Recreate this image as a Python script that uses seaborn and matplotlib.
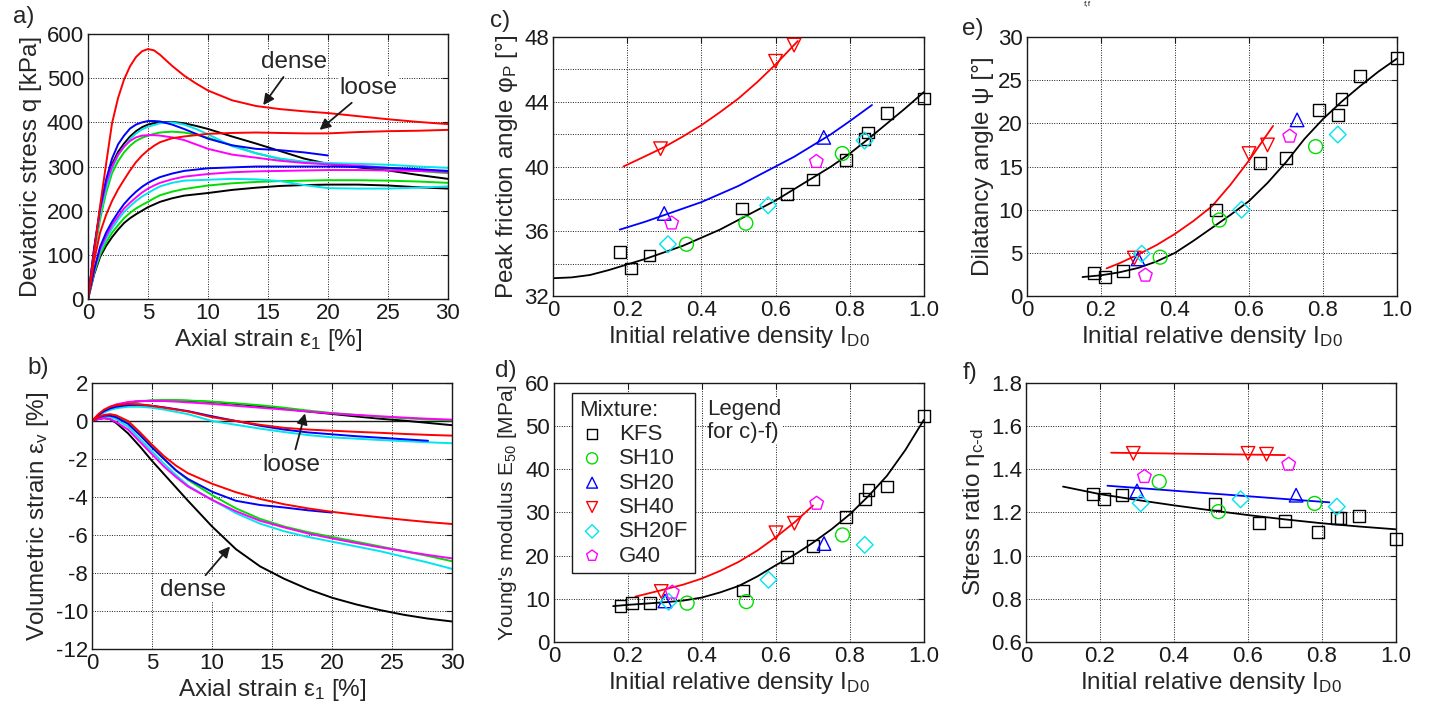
import numpy as np
import pandas as pd
import matplotlib
matplotlib.use("Agg")
from matplotlib import pyplot as plt
import seaborn as sns

# ------------------------------------------------------------------
# a) deviatoric stress q [kPa] over axial strain eps1 [%]
# ------------------------------------------------------------------
eps_a = [0, 0.5, 1, 1.5, 2, 2.5, 3, 3.5, 4, 4.5, 5, 5.5, 6, 7, 8, 9, 10, 12, 14, 16, 18, 20, 22.5, 25, 27.5, 30]

q_kfs_dense = [0, 110, 200, 260, 305, 333, 352, 368, 380, 389, 395, 398, 400, 401, 398, 392, 385, 368, 352, 335, 318, 306, 298, 291, 281, 272]
q_kfs_loose = [0, 55, 95, 120, 140, 157, 172, 183, 192, 200, 208, 214, 220, 228, 234, 237, 240, 247, 252, 256, 258, 259, 259, 257, 253, 250]
q_sh10_dense = [0, 100, 180, 240, 285, 312, 332, 347, 358, 365, 370, 374, 377, 379, 377, 372, 365, 348, 330, 317, 310, 306, 300, 295, 290, 285]
q_sh10_loose = [0, 58, 100, 128, 150, 167, 183, 195, 205, 213, 220, 228, 235, 243, 249, 253, 257, 262, 265, 267, 268, 269, 269, 268, 266, 263]
q_sh20_dense = [0, 115, 205, 270, 318, 350, 370, 386, 395, 400, 403, 403, 402, 395, 385, 374, 363, 348, 340, 337, 332, 325]
q_sh20_loose = [0, 66, 118, 150, 175, 196, 215, 230, 243, 254, 263, 270, 276, 284, 290, 293, 296, 298, 300, 300, 300, 300, 299, 297, 294, 290]
q_sh40_dense = [0, 105, 210, 305, 398, 455, 497, 527, 548, 561, 566, 563, 553, 528, 506, 488, 472, 450, 437, 430, 425, 421, 414, 407, 401, 396]
q_sh40_loose = [0, 85, 150, 190, 222, 248, 270, 291, 310, 325, 337, 347, 355, 364, 368, 371, 374, 376, 377, 376, 375, 375, 378, 380, 381, 383]
q_sh20f_dense = [0, 105, 190, 250, 295, 325, 345, 362, 375, 384, 390, 394, 398, 400, 395, 385, 373, 346, 330, 318, 311, 308, 306, 304, 300, 297]
q_sh20f_loose = [0, 62, 108, 136, 160, 180, 197, 210, 222, 232, 240, 248, 255, 263, 268, 269, 270, 272, 271, 267, 258, 251, 250, 250, 252, 255]
q_g40_dense = [0, 110, 200, 260, 300, 327, 345, 358, 366, 370, 371, 371, 370, 366, 360, 350, 340, 327, 320, 313, 308, 305, 302, 297, 292, 288]
q_g40_loose = [0, 64, 112, 142, 168, 187, 205, 218, 230, 241, 250, 257, 263, 271, 277, 280, 283, 287, 289, 290, 291, 292, 292, 291, 290, 288]

# ------------------------------------------------------------------
# b) volumetric strain eps_v [%] over axial strain eps1 [%]
# ------------------------------------------------------------------
eps_b = [0, 0.5, 1, 1.5, 2, 3, 4, 5, 6, 7, 8, 10, 12, 14, 16, 18, 20, 22, 24, 26, 28, 30]

ev_kfs_dense = [0, 0.1, 0.15, 0.1, -0.1, -0.65, -1.35, -2.1, -2.8, -3.5, -4.2, -5.55, -6.75, -7.65, -8.3, -8.85, -9.3, -9.65, -9.95, -10.2, -10.4, -10.55]
ev_kfs_loose = [0, 0.28, 0.52, 0.7, 0.83, 0.97, 1.04, 1.07, 1.08, 1.08, 1.06, 1.0, 0.9, 0.78, 0.64, 0.5, 0.37, 0.24, 0.12, 0.02, -0.1, -0.22]
ev_sh10_dense = [0, 0.2, 0.3, 0.32, 0.25, -0.1, -0.7, -1.35, -2.0, -2.6, -3.1, -3.9, -4.6, -5.15, -5.55, -5.85, -6.1, -6.35, -6.6, -6.85, -7.1, -7.38]
ev_sh10_loose = [0, 0.3, 0.55, 0.72, 0.85, 0.98, 1.05, 1.08, 1.1, 1.1, 1.08, 1.02, 0.93, 0.83, 0.7, 0.55, 0.42, 0.32, 0.22, 0.15, 0.08, 0.03]
ev_sh20_dense = [0, 0.18, 0.28, 0.28, 0.2, -0.15, -0.75, -1.4, -2.0, -2.6, -3.05, -3.72, -4.2, -4.42, -4.55, -4.7, -4.82]
ev_sh20_loose = [0, 0.3, 0.52, 0.66, 0.75, 0.84, 0.85, 0.8, 0.72, 0.62, 0.52, 0.25, 0.0, -0.25, -0.45, -0.6, -0.7, -0.8, -0.88, -0.96, -1.04]
ev_sh40_dense = [0, 0.2, 0.32, 0.36, 0.3, 0.0, -0.6, -1.25, -1.85, -2.35, -2.75, -3.3, -3.75, -4.1, -4.38, -4.6, -4.78, -4.93, -5.07, -5.2, -5.32, -5.42]
ev_sh40_loose = [0, 0.35, 0.6, 0.75, 0.83, 0.9, 0.88, 0.8, 0.7, 0.6, 0.5, 0.2, 0.0, -0.2, -0.36, -0.45, -0.51, -0.57, -0.62, -0.68, -0.73, -0.77]
ev_sh20f_dense = [0, 0.15, 0.25, 0.22, 0.1, -0.3, -0.95, -1.6, -2.25, -2.85, -3.4, -4.15, -4.85, -5.4, -5.8, -6.1, -6.35, -6.6, -6.85, -7.15, -7.45, -7.78]
ev_sh20f_loose = [0, 0.25, 0.45, 0.58, 0.67, 0.75, 0.75, 0.7, 0.6, 0.48, 0.36, 0.0, -0.2, -0.4, -0.58, -0.74, -0.86, -0.93, -1.0, -1.06, -1.12, -1.17]
ev_g40_dense = [0, 0.1, 0.15, 0.1, -0.05, -0.45, -1.1, -1.75, -2.4, -2.95, -3.45, -4.15, -4.75, -5.25, -5.6, -5.92, -6.18, -6.42, -6.65, -6.85, -7.05, -7.23]
ev_g40_loose = [0, 0.3, 0.55, 0.75, 0.87, 1.0, 1.05, 1.06, 1.05, 1.02, 0.98, 0.9, 0.8, 0.7, 0.6, 0.5, 0.4, 0.32, 0.25, 0.18, 0.12, 0.07]

# ------------------------------------------------------------------
# c)-f) values over initial relative density ID0
# ------------------------------------------------------------------
mix_names = ["KFS", "SH10", "SH20", "SH40", "SH20F", "G40"]
mix_colors = ["black", "#00dd00", "#0000ff", "#ff0000", "#00e5ee", "#ff00ff"]
mix_markers = ["s", "o", "^", "v", "D", "p"]
mix_sizes = [72, 100, 95, 95, 72, 105]

id0_kfs = [0.18, 0.21, 0.26, 0.51, 0.63, 0.70, 0.79, 0.84, 0.85, 0.90, 1.00]
id0_sh10 = [0.36, 0.52, 0.78]
id0_sh20 = [0.30, 0.73]
id0_sh40 = [0.29, 0.60, 0.65]
id0_sh20f = [0.31, 0.58, 0.84]
id0_g40 = [0.32, 0.71]

phi_kfs = [34.7, 33.7, 34.5, 37.4, 38.3, 39.2, 40.4, 41.7, 42.1, 43.3, 44.2]
phi_sh10 = [35.2, 36.5, 40.8]
phi_sh20 = [37.1, 41.8]
phi_sh40 = [41.1, 46.5, 47.5]
phi_sh20f = [35.2, 37.6, 41.6]
phi_g40 = [36.5, 40.3]

e50_kfs = [8.4, 9.0, 9.0, 11.9, 19.7, 22.3, 29.0, 33.1, 35.2, 36.0, 52.4]
e50_sh10 = [9.0, 9.35, 24.8]
e50_sh20 = [9.5, 22.8]
e50_sh40 = [11.7, 25.3, 27.5]
e50_sh20f = [9.3, 14.4, 22.5]
e50_g40 = [11.5, 32.1]

psi_kfs = [2.7, 2.2, 2.9, 10.0, 15.4, 16.0, 21.5, 21.0, 22.8, 25.5, 27.6]
psi_sh10 = [4.5, 8.8, 17.3]
psi_sh20 = [4.3, 20.4]
psi_sh40 = [4.4, 16.5, 17.5]
psi_sh20f = [4.9, 10.0, 18.7]
psi_g40 = [2.4, 18.5]

eta_kfs = [1.284, 1.261, 1.281, 1.239, 1.153, 1.160, 1.110, 1.176, 1.176, 1.185, 1.077]
eta_sh10 = [1.343, 1.204, 1.242]
eta_sh20 = [1.30, 1.28]
eta_sh40 = [1.474, 1.474, 1.470]
eta_sh20f = [1.243, 1.261, 1.227]
eta_g40 = [1.366, 1.423]

# fitted trend lines
fit_c_kfs_x = [0, 0.05, 0.1, 0.15, 0.2, 0.25, 0.3, 0.35, 0.4, 0.45, 0.5, 0.55, 0.6, 0.65, 0.7, 0.75, 0.8, 0.85, 0.9, 0.95, 1.0]
fit_c_kfs_y = [33.1, 33.15, 33.3, 33.6, 33.95, 34.3, 34.7, 35.1, 35.6, 36.1, 36.7, 37.3, 37.9, 38.6, 39.3, 40.0, 40.8, 41.7, 42.65, 43.6, 44.6]
fit_c_sh20_x = [0.18, 0.25, 0.3, 0.35, 0.4, 0.45, 0.5, 0.55, 0.6, 0.65, 0.7, 0.75, 0.8, 0.86]
fit_c_sh20_y = [36.1, 36.6, 37.0, 37.4, 37.8, 38.3, 38.8, 39.4, 40.0, 40.6, 41.3, 42.0, 42.8, 43.8]
fit_c_sh40_x = [0.19, 0.25, 0.3, 0.35, 0.4, 0.45, 0.5, 0.55, 0.6, 0.66]
fit_c_sh40_y = [40.0, 40.65, 41.2, 41.85, 42.55, 43.35, 44.2, 45.2, 46.3, 47.75]

fit_d_kfs_x = [0.16, 0.2, 0.25, 0.3, 0.35, 0.4, 0.45, 0.5, 0.55, 0.6, 0.65, 0.7, 0.75, 0.8, 0.85, 0.9, 0.95, 1.0]
fit_d_kfs_y = [8.3, 8.6, 8.9, 9.2, 9.6, 10.3, 11.5, 13.0, 15.2, 17.8, 20.2, 23.0, 26.1, 29.6, 33.8, 38.5, 44.5, 51.5]
fit_d_sh40_x = [0.22, 0.3, 0.35, 0.4, 0.45, 0.5, 0.55, 0.6, 0.65, 0.7]
fit_d_sh40_y = [10.5, 12.2, 13.3, 14.7, 16.5, 18.6, 21.2, 24.3, 27.7, 31.6]

fit_e_kfs_x = [0.15, 0.2, 0.25, 0.3, 0.35, 0.4, 0.45, 0.5, 0.55, 0.6, 0.65, 0.7, 0.75, 0.8, 0.85, 0.9, 0.95, 1.0]
fit_e_kfs_y = [2.2, 2.4, 2.75, 3.25, 4.0, 5.0, 6.4, 7.9, 9.4, 11.0, 13.1, 15.5, 18.2, 20.5, 22.5, 24.3, 26.0, 27.5]
fit_e_sh40_x = [0.215, 0.25, 0.3, 0.35, 0.4, 0.45, 0.5, 0.55, 0.6, 0.665]
fit_e_sh40_y = [3.2, 3.8, 4.8, 5.9, 7.2, 8.7, 10.4, 12.9, 15.7, 19.7]

fit_f_kfs_x = [0.1, 0.2, 0.3, 0.4, 0.5, 0.6, 0.7, 0.8, 0.9, 1.0]
fit_f_kfs_y = [1.32, 1.285, 1.258, 1.233, 1.21, 1.188, 1.168, 1.15, 1.135, 1.122]
fit_f_sh20_x = [0.22, 0.82]
fit_f_sh20_y = [1.324, 1.247]
fit_f_sh40_x = [0.23, 0.70]
fit_f_sh40_y = [1.477, 1.466]

# ------------------------------------------------------------------
sns.set_theme(style="white")
plt.rcParams['font.family'] = ['Liberation Sans', 'DejaVu Sans']
plt.rcParams['mathtext.fontset'] = 'custom'
plt.rcParams['mathtext.rm'] = 'Liberation Sans'
plt.rcParams['mathtext.it'] = 'Liberation Sans:italic'
plt.rcParams['mathtext.default'] = 'regular'
plt.rcParams['axes.unicode_minus'] = False

TICK = 16
LAB = 17.5

fig = plt.figure(figsize=(14.34, 7.06), dpi=100)
ax_a = fig.add_axes([0.0614, 0.5765, 0.2510, 0.3753])
ax_b = fig.add_axes([0.0642, 0.0807, 0.2510, 0.3768])
ax_c = fig.add_axes([0.3856, 0.5807, 0.2587, 0.3669])
ax_d = fig.add_axes([0.3863, 0.0907, 0.2580, 0.3668])
ax_e = fig.add_axes([0.7162, 0.5807, 0.2580, 0.3669])
ax_f = fig.add_axes([0.7155, 0.0907, 0.2580, 0.3668])


def style_axes(ax):
    ax.grid(True, linestyle=(0, (1, 1.5)), color='k', lw=0.7)
    ax.tick_params(direction='in', length=4, width=0.8, labelsize=TICK,
                   top=True, right=True, pad=3, colors='k')
    for s in ax.spines.values():
        s.set_color('k')
        s.set_linewidth(1.0)
    ax.set_axisbelow(True)


# draw order of the mixtures in a) and b)
order = [0, 1, 4, 5, 2, 3]

a_curves = [(q_kfs_dense, q_kfs_loose), (q_sh10_dense, q_sh10_loose), (q_sh20_dense, q_sh20_loose),
            (q_sh40_dense, q_sh40_loose), (q_sh20f_dense, q_sh20f_loose), (q_g40_dense, q_g40_loose)]
b_curves = [(ev_kfs_dense, ev_kfs_loose), (ev_sh10_dense, ev_sh10_loose), (ev_sh20_dense, ev_sh20_loose),
            (ev_sh40_dense, ev_sh40_loose), (ev_sh20f_dense, ev_sh20f_loose), (ev_g40_dense, ev_g40_loose)]

for i in order:
    for q in a_curves[i]:
        sns.lineplot(x=eps_a[:len(q)], y=q, ax=ax_a, color=mix_colors[i], lw=1.4,
                     sort=False, estimator=None)
    for ev in b_curves[i]:
        sns.lineplot(x=eps_b[:len(ev)], y=ev, ax=ax_b, color=mix_colors[i], lw=1.4,
                     sort=False, estimator=None)

ax_b.axhline(0, color='k', lw=1.0, zorder=1)

arrow = dict(arrowstyle='-|>', color='k', lw=1.3, mutation_scale=16, shrinkA=3, shrinkB=0)
white = dict(fc='white', ec='none', pad=0.5)

# panel a
style_axes(ax_a)
ax_a.set_xlim(0, 30)
ax_a.set_ylim(0, 600)
ax_a.set_xticks([0, 5, 10, 15, 20, 25, 30])
ax_a.set_yticks([0, 100, 200, 300, 400, 500, 600])
ax_a.set_xlabel("Axial strain ε$_1$ [%]", fontsize=LAB, labelpad=2)
ax_a.set_ylabel("Deviatoric stress q [kPa]", fontsize=LAB, labelpad=3)
ax_a.annotate("dense", xy=(14.6, 439), xytext=(17.2, 537), fontsize=LAB, ha='center', va='center',
              arrowprops=arrow, bbox=white)
ax_a.annotate("loose", xy=(19.3, 383), xytext=(23.4, 477), fontsize=LAB, ha='center', va='center',
              arrowprops=arrow, bbox=white)

# panel b
style_axes(ax_b)
ax_b.set_xlim(0, 30)
ax_b.set_ylim(-12, 2)
ax_b.set_xticks([0, 5, 10, 15, 20, 25, 30])
ax_b.set_yticks([-12, -10, -8, -6, -4, -2, 0, 2])
ax_b.set_xlabel("Axial strain ε$_1$ [%]", fontsize=LAB, labelpad=2)
ax_b.set_ylabel("Volumetric strain ε$_\\mathrm{v}$ [%]", fontsize=LAB, labelpad=3)
ax_b.annotate("loose", xy=(17.75, 0.4), xytext=(16.6, -2.32), fontsize=LAB, ha='center', va='center',
              arrowprops=arrow, bbox=white)
ax_b.annotate("dense", xy=(11.5, -6.6), xytext=(8.4, -8.9), fontsize=LAB, ha='center', va='center',
              arrowprops=arrow, bbox=white)

# panels c-f
id0_all = [id0_kfs, id0_sh10, id0_sh20, id0_sh40, id0_sh20f, id0_g40]
panel_vals = {
    'c': [phi_kfs, phi_sh10, phi_sh20, phi_sh40, phi_sh20f, phi_g40],
    'd': [e50_kfs, e50_sh10, e50_sh20, e50_sh40, e50_sh20f, e50_g40],
    'e': [psi_kfs, psi_sh10, psi_sh20, psi_sh40, psi_sh20f, psi_g40],
    'f': [eta_kfs, eta_sh10, eta_sh20, eta_sh40, eta_sh20f, eta_g40],
}
panel_fits = {
    'c': [(fit_c_kfs_x, fit_c_kfs_y, 0), (fit_c_sh20_x, fit_c_sh20_y, 2), (fit_c_sh40_x, fit_c_sh40_y, 3)],
    'd': [(fit_d_kfs_x, fit_d_kfs_y, 0), (fit_d_sh40_x, fit_d_sh40_y, 3)],
    'e': [(fit_e_kfs_x, fit_e_kfs_y, 0), (fit_e_sh40_x, fit_e_sh40_y, 3)],
    'f': [(fit_f_kfs_x, fit_f_kfs_y, 0), (fit_f_sh20_x, fit_f_sh20_y, 2), (fit_f_sh40_x, fit_f_sh40_y, 3)],
}
panel_axes = {'c': ax_c, 'd': ax_d, 'e': ax_e, 'f': ax_f}

for key, ax in panel_axes.items():
    for fx, fy, ci in panel_fits[key]:
        sns.lineplot(x=fx, y=fy, ax=ax, color=mix_colors[ci], lw=1.3, sort=False, estimator=None)
    for i in range(6):
        sns.scatterplot(x=id0_all[i], y=panel_vals[key][i], ax=ax, marker=mix_markers[i],
                        s=mix_sizes[i], facecolors='none', edgecolor=mix_colors[i], linewidth=1.0,
                        label=mix_names[i] if key == 'd' else None, zorder=3, clip_on=False)
    style_axes(ax)
    ax.set_xlim(0, 1.0)
    ax.set_xticks([0, 0.2, 0.4, 0.6, 0.8, 1.0])
    ax.set_xticklabels(['0', '0.2', '0.4', '0.6', '0.8', '1.0'])
    ax.set_xlabel("Initial relative density I$_\\mathrm{D0}$", fontsize=LAB, labelpad=2)

ax_c.set_ylim(32, 48)
ax_c.set_yticks([32, 34, 36, 38, 40, 42, 44, 46, 48])
ax_c.set_yticklabels(['32', '', '36', '', '40', '', '44', '', '48'])
ax_c.set_ylabel("Peak friction angle φ$_\\mathrm{P}$ [°]", fontsize=LAB, labelpad=3)

ax_d.set_ylim(0, 60)
ax_d.set_yticks([0, 10, 20, 30, 40, 50, 60])
ax_d.set_ylabel("Young's modulus E$_{50}$ [MPa]", fontsize=15, labelpad=4)

ax_e.set_ylim(0, 30)
ax_e.set_yticks([0, 5, 10, 15, 20, 25, 30])
ax_e.set_ylabel("Dilatancy angle ψ [°]", fontsize=LAB, labelpad=3)

ax_f.set_ylim(0.6, 1.8)
ax_f.set_yticks([0.6, 0.8, 1.0, 1.2, 1.4, 1.6, 1.8])
ax_f.set_yticklabels(['0.6', '0.8', '1.0', '1.2', '1.4', '1.6', '1.8'])
ax_f.set_ylabel("Stress ratio η$_{\\text{c-d}}$", fontsize=LAB, labelpad=3)

leg = ax_d.legend(title="Mixture:", loc='upper left', bbox_to_anchor=(0.049, 0.962), borderaxespad=0,
                  fontsize=16, title_fontsize=16, frameon=True, fancybox=False, edgecolor='k',
                  framealpha=1, labelspacing=0.15, handletextpad=0.6, handlelength=1.2,
                  borderpad=0.3, markerscale=0.8, alignment='left')
leg.get_frame().set_linewidth(1.0)
ax_d.text(0.415, 0.853, "Legend\nfor c)-f)", transform=ax_d.transAxes, fontsize=16, ha='left', va='center',
          linespacing=1.1, bbox=dict(fc='white', ec='none', pad=1))

# panel letters
for lab, px, py in [("a)", 13, 17), ("b)", 27, 368), ("c)", 490, 21),
                    ("d)", 495, 371), ("e)", 962, 29), ("f)", 963, 373)]:
    fig.text(px / 1434, 1 - py / 706, lab, fontsize=LAB, ha='left', va='center')

fig.text(1087 / 1434, 1 - 4 / 706, "f,f", fontsize=6, ha='center', va='center')

fig.savefig("out.png", dpi=100)
